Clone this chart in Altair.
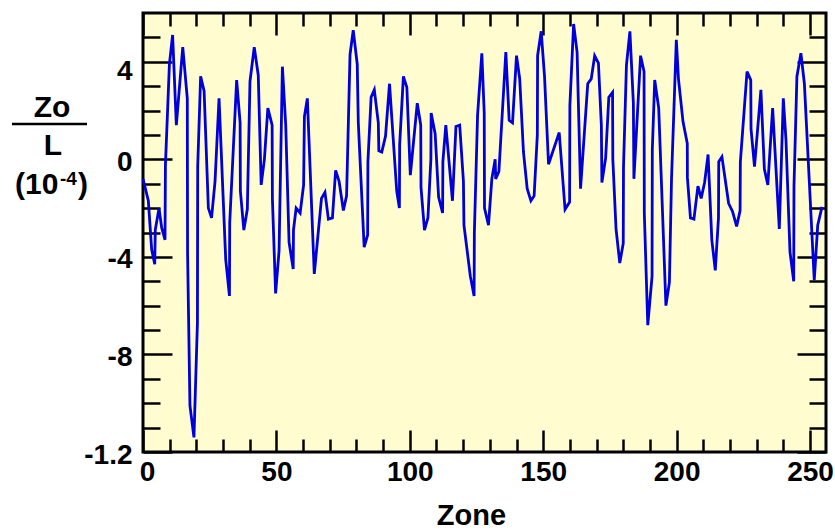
import altair as alt
import pandas as pd

# ---- data ----
zone = [0, 2, 3.25, 4.4, 4.6, 6, 7, 8.25, 8.4, 9.9, 11.1, 12.5, 14.9, 16.6, 16.7, 17.6, 19.1, 20.4, 20.5,
        21.6, 22.9, 24.5, 25.7, 27, 28.5, 31, 32.4, 32.5, 35.1, 36.4, 36.5, 37.8, 39.1, 40.1, 41.7, 43.2,
        44.3, 45.5, 46.8, 48.4, 48.5, 49.7, 51, 52.25, 53.5, 54.75, 56.3, 56.4, 57.4, 58.9, 60.2, 60.5,
        61.6, 64.2, 66.9, 68.2, 69.5, 71, 72.2, 73.5, 75.1, 76.3, 77.6, 78.8, 80.3, 80.7, 82.9, 84.2, 84.3,
        85.5, 86.7, 88.2, 88.4, 89.5, 90.9, 92.4, 95.1, 96.1, 96.2, 97.6, 98.9, 100.2, 102.8, 104.1, 104.2,
        105.5, 106.8, 107.9, 108, 109.5, 110.8, 112.3, 112.4, 113.5, 116, 117.3, 118.7, 120.1, 120.3,
        122.7, 124.1, 124.2, 125.4, 127, 127.9, 128, 129.5, 130.75, 132, 132.2, 133.4, 136, 137.25, 138.5,
        140, 141.2, 142.6, 144, 145.4, 146.6, 147.8, 147.9, 149.25, 150.5, 152, 156, 158.2, 159.9, 160,
        161.4, 162.7, 164, 166.7, 168, 169.3, 170.7, 171.8, 172, 173.4, 174.6, 176, 176.1, 177.3, 178.7,
        180, 180.1, 181.2, 182.5, 183.8, 184, 186.5, 187.8, 187.9, 189.2, 190.8, 190.9, 191.8, 193.3, 196,
        197.3, 198.1, 199.9, 200.7, 202.4, 204, 204.05, 205.2, 206.5, 208, 209.2, 210.5, 211.8, 213.2,
        214.5, 215.7, 215.8, 217, 219.5, 221, 222.5, 223.8, 223.9, 226.4, 227.8, 227.9, 229.2, 231.6,
        232.9, 234.2, 236, 238.5, 240, 241, 242.5, 243.9, 244, 245.1, 246.6, 247.9, 251.6, 252.9, 254.5]

zo_over_l = [-0.8, -1.7, -3.7, -4.3, -2.9, -2.0, -2.8, -3.3, -0.25, 3.9, 5.1, 1.4, 4.6, 2.5, -3.8, -10.1,
             -11.4, -6.7, -0.3, 3.4, 2.8, -2.0, -2.4, -0.9, 2.5, -4.1, -5.6, -2.6, 3.25, 1.5, -1.3, -2.9,
             -2.05, 3.2, 4.6, 3.45, -1.05, 0.0, 2.1, 1.4, -1.6, -5.5, -3.75, 3.8, 1.4, -3.4, -4.5, -2.9,
             -2.0, -2.2, -1.05, 1.75, 2.5, -4.7, -1.6, -1.35, -2.45, -2.4, -0.45, -0.9, -2.1, -1.5, 4.3,
             5.3, 3.9, 1.5, -3.6, -3.1, -0.1, 2.55, 2.85, 1.5, 0.35, 0.3, 0.95, 3.1, -1.3, -2.0, 0.6, 3.4,
             2.95, -0.65, 2.3, 1.4, -1.15, -2.9, -2.4, 0.0, 1.9, 1.05, -1.55, -2.2, -0.1, 1.4, -1.7, 1.35,
             1.4, -0.9, -2.7, -4.8, -5.6, -3.0, 1.8, 4.35, 1.9, -2.0, -2.7, -0.8, 0.0, -0.8, -0.5, 4.4, 1.6,
             1.5, 4.25, 3.3, 0.3, -1.2, -1.7, -1.5, 1.0, 4.25, 5.25, 3.4, -0.2, 1.1, -2.05, -1.75, 2.2,
             5.55, 4.4, -1.2, 3.1, 3.3, 4.25, 3.95, 1.4, -0.95, 0.05, 2.55, 2.75, 0.0, -2.85, -4.25, -3.45,
             -0.3, 3.85, 5.25, 2.3, -0.8, 4.25, 3.6, -2.2, -6.8, -4.8, 0.4, 3.25, 2.1, -6.0, -5.05, -0.8,
             4.9, 3.3, 1.55, 0.65, -0.75, -2.4, -2.45, -1.1, -1.6, -0.95, 0.2, -3.3, -4.55, -2.4, -0.1, 0.1,
             -1.8, -2.15, -2.75, -2.1, -0.1, 3.6, 3.25, 1.25, -0.3, 2.85, -0.4, -1.05, 2.1, -2.85, 2.5, 0.8,
             -3.8, -5.0, -1.1, 3.4, 4.35, 3.1, -4.95, -2.7, -1.95]

x_major = [0, 50, 100, 150, 200, 250]
x_minor = [10, 20, 30, 40, 60, 70, 80, 90, 110, 120, 130, 140, 160, 170, 180, 190, 210, 220, 230, 240]
y_major = [4, 0, -4, -8, -12]
y_minor = [5, 3, 2, 1, -1, -2, -3, -5, -6, -7, -9, -10, -11]

W, H = 683, 439
FONT = "Liberation Sans"

df = pd.DataFrame({"zone": zone, "zol": zo_over_l})
xs = alt.Scale(domain=[0, 256], nice=False, zero=False)
ys = alt.Scale(domain=[-12, 6], nice=False, zero=False)


def tick_axis(orient, values, size, offset):
    return alt.Axis(orient=orient, values=values, offset=offset, labels=False, domain=False,
                    grid=False, ticks=True, tickSize=size, tickWidth=2.5, tickColor="black", title="")


base = alt.Chart(df)

line = base.mark_line(color="#0000DD", strokeWidth=2.8).encode(
    x=alt.X("zone:Q", scale=xs, axis=alt.Axis(
        orient="bottom", values=x_major, ticks=False, domain=False, grid=False,
        labelFont=FONT, labelFontSize=28, labelFontWeight="bold", labelColor="black",
        labelPadding=6, labelFlush=False,
        labelOffset={"condition": {"test": "datum.value == 0", "value": 4}, "value": 0},
        title="Zone", titleFont=FONT, titleFontSize=29, titleFontWeight="bold", titleColor="black",
        titleX=328, titleY=72, titleAlign="center", titleBaseline="alphabetic")),
    y=alt.Y("zol:Q", scale=ys, axis=alt.Axis(
        orient="left", values=y_major, ticks=False, domain=False, grid=False,
        labelExpr="datum.value == -12 ? '-1.2' : '' + datum.value",
        labelFont=FONT, labelFontSize=28, labelFontWeight="bold", labelColor="black",
        labelPadding=11, labelBaseline="middle",
        labelOffset={"condition": {"test": "datum.value == 4", "value": 10}, "value": 3},
        title="")),
)


def tick_layer(xo, xv, xsz, yo, yv, ysz, xoff, yoff):
    return base.mark_line(strokeOpacity=0).encode(
        x=alt.X("zone:Q", scale=xs, axis=tick_axis(xo, xv, xsz, xoff)),
        y=alt.Y("zol:Q", scale=ys, axis=tick_axis(yo, yv, ysz, yoff)),
    )


inner_bottom_left_major = tick_layer("top", x_major, 22, "right", y_major, 29, -H, -W)
inner_bottom_left_minor = tick_layer("top", x_minor, 13, "right", y_minor, 17, -H, -W)
inner_top_right_major = tick_layer("bottom", x_major, 22, "left", y_major, 29, -H, -W)
inner_top_right_minor = tick_layer("bottom", x_minor, 13, "left", y_minor, 17, -H, -W)


def label_text(txt, px, py, size=30, align="center"):
    return alt.Chart(pd.DataFrame({"t": [txt]})).mark_text(
        font=FONT, fontSize=size, fontWeight="bold", color="black", align=align,
        baseline="alphabetic").encode(text="t:N", x=alt.value(px), y=alt.value(py))


t_zo = label_text("Zo", -91, 104)
t_bar = alt.Chart(pd.DataFrame({"t": [0]})).mark_rule(color="black", strokeWidth=2.5).encode(
    x=alt.value(-131), x2=alt.value(-56), y=alt.value(111))
t_l = label_text("L", -90, 142)
t_p1 = label_text("(10", -128, 181, align="left")
t_sup = label_text("-4", -83, 172, size=19, align="left")
t_p2 = label_text(")", -65, 181, align="left")

chart = alt.layer(
    line, inner_bottom_left_major, inner_bottom_left_minor, inner_top_right_major,
    inner_top_right_minor, t_zo, t_bar, t_l, t_p1, t_sup, t_p2
).resolve_axis(x="independent", y="independent").properties(
    width=W, height=H,
    autosize=alt.AutoSizeParams(type="none"),
    padding={"left": 143, "top": 13, "right": 9, "bottom": 78},
    background="white",
).configure_view(fill="#FFFDD0", stroke="black", strokeWidth=3)

chart.save("out.html", embed_options={"renderer": "svg", "actions": False})
